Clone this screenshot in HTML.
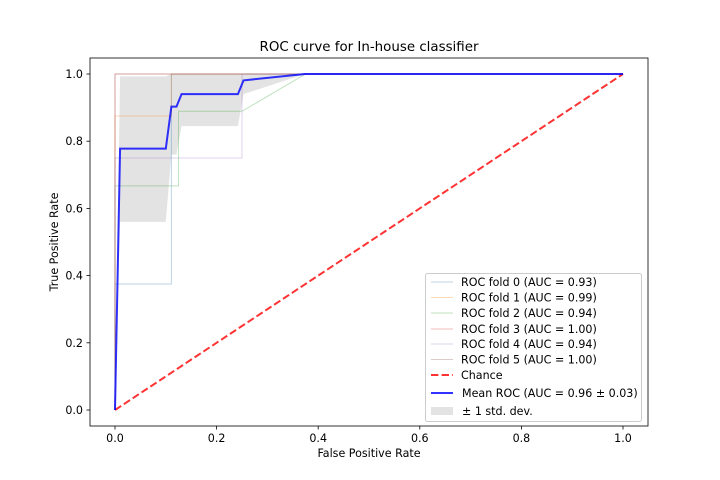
<!DOCTYPE html>
<html><head><meta charset="utf-8"><style>body{margin:0;background:#fff}svg{display:block;font-family:"DejaVu Sans","Liberation Sans",sans-serif}</style></head>
<body>
<svg id="chart" width="720" height="480"></svg>
<script>
const foldNames=["ROC fold 0 (AUC = 0.93)","ROC fold 1 (AUC = 0.99)","ROC fold 2 (AUC = 0.94)","ROC fold 3 (AUC = 1.00)","ROC fold 4 (AUC = 0.94)","ROC fold 5 (AUC = 1.00)"];
const foldColors=["#1f77b4","#ff7f0e","#2ca02c","#d62728","#9467bd","#8c564b"];
const foldFpr=[[0,0,0.111,0.111,1],[0,0,0.111,0.111,1],[0,0,0.125,0.125,0.25,0.375,1],[0,0,1],[0,0,0.25,0.25,1],[0,0,0.111,1]];
const foldTpr=[[0,0.375,0.375,1,1],[0,0.875,0.875,1,1],[0,0.667,0.667,0.889,0.889,1,1],[0,1,1],[0,0.75,0.75,1,1],[0,1,1,1]];
const meanFpr=[0,0.01,0.1,0.111,0.121,0.131,0.242,0.253,0.374,1];
const meanTpr=[0,0.778,0.778,0.903,0.903,0.94,0.94,0.981,1,1];
const stdUpper=[0,0.993,0.993,1,1,1,1,1,1,1];
const stdLower=[0,0.56,0.56,0.76,0.76,0.845,0.845,0.94,1,1];
const xTicks=[0,0.2,0.4,0.6,0.8,1.0];
const yTicks=[0,0.2,0.4,0.6,0.8,1.0];
const L=90,R=648,T=58,B=426;
const FS=11.1;
const sx=v=>115+508*v, sy=v=>410-336*v;
const svg=document.getElementById('chart');
const NS='http://www.w3.org/2000/svg';
function mk(tag,attrs,parent){const e=document.createElementNS(NS,tag);for(const k in attrs)e.setAttribute(k,attrs[k]);(parent||svg).appendChild(e);return e;}
function pts(xs,ys){return xs.map((x,i)=>sx(x)+','+sy(ys[i])).join(' ');}
let band=mk('polygon',{points:pts(meanFpr,stdUpper)+' '+pts(meanFpr.slice().reverse(),stdLower.slice().reverse()),fill:'#000','fill-opacity':0.11,stroke:'none'});


foldFpr.forEach((f,i)=>{
 const p=mk('polyline',{points:pts(f,foldTpr[i]),fill:'none',stroke:foldColors[i],'stroke-opacity':0.3,'stroke-width':1});
 
 
});
let ch=mk('line',{x1:sx(0),y1:sy(0),x2:sx(1),y2:sy(1),stroke:'#ff0000','stroke-opacity':0.8,'stroke-width':2,'stroke-dasharray':'7.4,3.2'});


let mr=mk('polyline',{points:pts(meanFpr,meanTpr),fill:'none',stroke:'#0000ff','stroke-opacity':0.8,'stroke-width':2});


let frame=mk('rect',{x:L,y:T,width:R-L,height:B-T,fill:'none',stroke:'#000','stroke-width':0.8});


xTicks.forEach(v=>{
 mk('line',{x1:sx(v),y1:B,x2:sx(v),y2:B+3.5,stroke:'#000','stroke-width':0.8});
 const t=mk('text',{x:sx(v),y:B+16,'font-size':FS,'text-anchor':'middle'});t.textContent=v.toFixed(1);
 
 
});
yTicks.forEach(v=>{
 mk('line',{x1:L,y1:sy(v),x2:L-3.5,y2:sy(v),stroke:'#000','stroke-width':0.8});
 const t=mk('text',{x:L-7,y:sy(v)+4,'font-size':FS,'text-anchor':'end'});t.textContent=v.toFixed(1);
 
 
});
let tt=mk('text',{x:369,y:51,'font-size':13.4,'text-anchor':'middle'});tt.textContent='ROC curve for In-house classifier';


let xl=mk('text',{x:369,y:457,'font-size':FS,'text-anchor':'middle'});xl.textContent='False Positive Rate';


let yl=mk('text',{x:58,y:242,'font-size':FS,'text-anchor':'middle',transform:'rotate(-90 58 242)'});yl.textContent='True Positive Rate';


const lg=mk('g',{});


mk('rect',{x:425.5,y:273.5,width:216,height:148,rx:2,fill:'#fff','fill-opacity':0.8,stroke:'#ccc'},lg);
const rows=foldNames.concat(['Chance','Mean ROC (AUC = 0.96 \u00b1 0.03)','\u00b1 1 std. dev.']);
const rowY=[282,297.5,313,329,344,359.5,375,393,411];
rows.forEach((name,i)=>{
 const y=rowY[i];
 const g=mk('g',{},lg);
 
 
 if(i<6) mk('line',{x1:431,y1:y,x2:453,y2:y,stroke:foldColors[i],'stroke-opacity':0.3},g);
 else if(i==6) mk('line',{x1:431,y1:y,x2:453,y2:y,stroke:'#ff0000','stroke-opacity':0.8,'stroke-width':2,'stroke-dasharray':'7.4,3.2'},g);
 else if(i==7) mk('line',{x1:431,y1:y,x2:453,y2:y,stroke:'#0000ff','stroke-opacity':0.8,'stroke-width':2},g);
 else mk('rect',{x:431,y:y-4,width:22,height:8,fill:'#000','fill-opacity':0.11},g);
 const t=mk('text',{x:i>=7?462:461,y:y+4,'font-size':FS},g);t.textContent=name;
});
</script>
</body></html>
